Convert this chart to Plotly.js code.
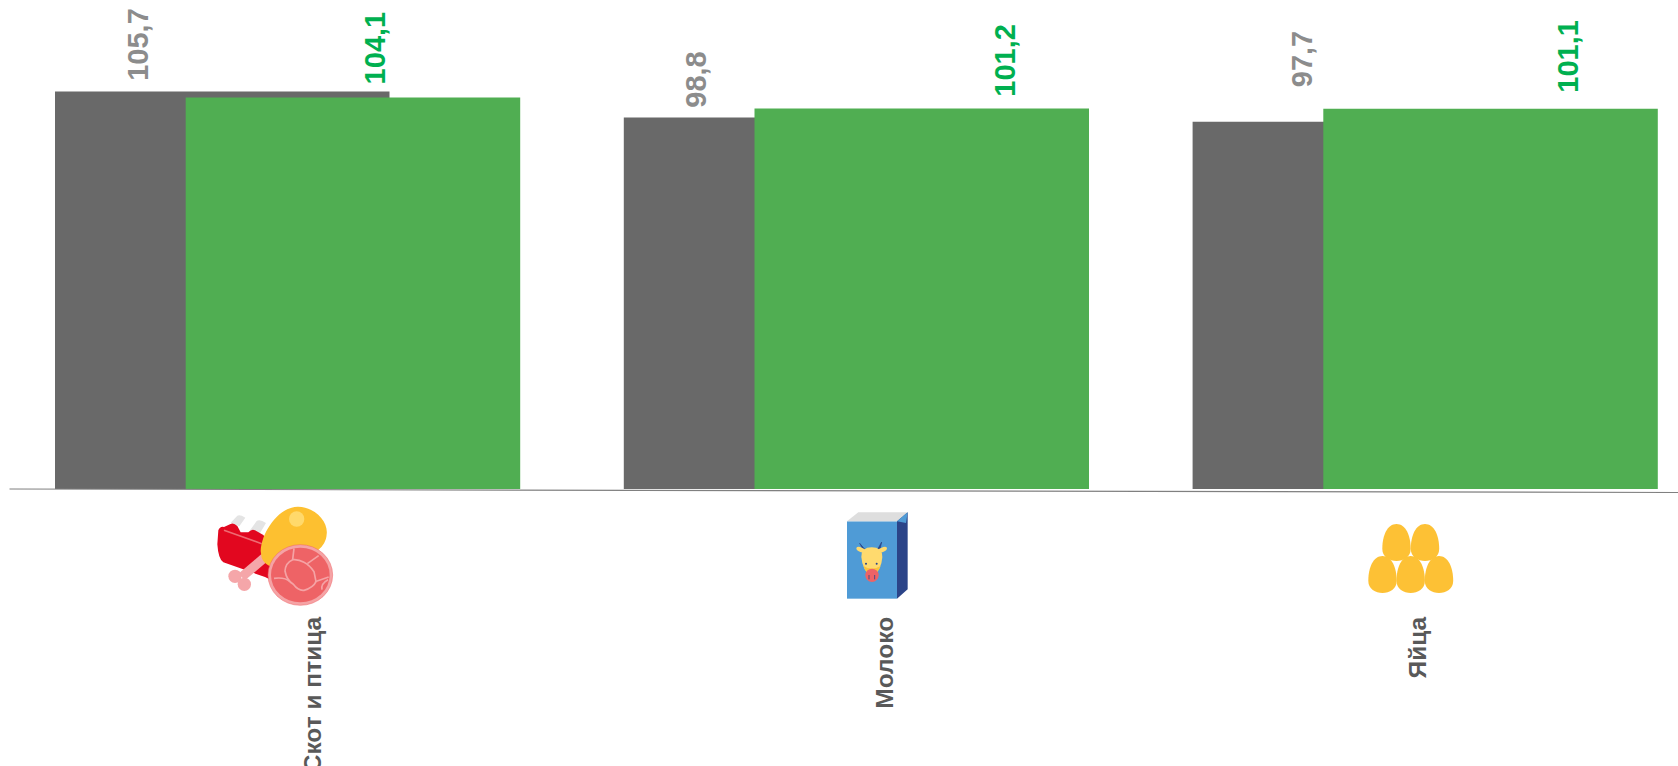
<!DOCTYPE html>
<html><head><meta charset="utf-8">
<script src="https://cdn.plot.ly/plotly-3.0.1.min.js"></script>
<style>html,body{margin:0;padding:0;background:#fff;overflow:hidden}</style>
</head><body><div id="chart" style="width:1678px;height:766px"></div>
<script>
// ---- data ----
const categories = ["Скот и птица", "Молоко", "Яйца"];
const groupIndex = [0, 1, 2];
const greyValues = [105.7, 98.8, 97.7];
const greenValues = [104.1, 101.2, 101.1];

// ---- layout helpers (pixels of the 1678x766 frame) ----
const W = 1678, H = 766, baseY = 489;
const unitPx = 568.8, firstCenterPx = 287.5, pxPerValue = 3.76;
const toX = px => (px - firstCenterPx) / unitPx;
const barWidth = 334.5 / unitPx;
const greyOffset = (55 - firstCenterPx) / unitPx;
const greenOffset = (185.7 - firstCenterPx) / unitPx;
const tickPx = [313, 885, 1418];
const greyLabelPx = [138, 696, 1302], greyLabelGap = [8.3, 7.8, 32.4];
const greenLabelPx = [375, 1005, 1568], greenLabelGap = [10.7, 9.3, 13.7];
const comma = v => String(v).replace('.', ',');

const svgUri = s => 'data:image/svg+xml;charset=utf-8,' + encodeURIComponent(s);
const meatIcon = `<svg xmlns="http://www.w3.org/2000/svg" width="480" height="390" viewBox="0 0 480 390">
<path d="M92,95 L112,74 Q120,70 136,80 L118,106 Z M150,118 L170,90 Q180,84 198,96 L178,130 Z" fill="#e4e4e4"/>
<path d="M55,118 Q60,105 72,108 L90,100 Q100,93 112,105 L122,124 L145,124 Q155,113 165,118 L190,132 L210,160 L215,268 L195,258 L70,214 Q55,205 52,160 Z" fill="#e2071f"/>
<path d="M72,118 L185,158" stroke="#ee6a72" stroke-width="5" fill="none"/>
<path d="M205,190 L125,258" stroke="#f5a6a9" stroke-width="28" fill="none"/>
<circle cx="105" cy="256" r="20" fill="#f5a6a9"/><circle cx="133" cy="280" r="20" fill="#f5a6a9"/>
<path d="M182,180 C185,120 240,45 295,47 C350,50 385,95 380,130 C378,170 340,190 300,215 C260,235 200,240 185,200 Z" fill="#fdc030"/>
<circle cx="290" cy="84" r="23" fill="#ffd96b"/>
<ellipse cx="301" cy="252" rx="97" ry="91" fill="#f5a3a5" stroke="#ee6366" stroke-width="1.5"/>
<ellipse cx="301" cy="252" rx="88" ry="82" fill="#ee6366"/>
<g stroke="#f5a3a5" stroke-width="5" fill="none" stroke-linejoin="round">
<path d="M282,172 L278,206 Q256,216 255,240 Q260,268 280,280 Q295,300 312,298 Q340,290 348,272 L342,242 Q328,222 312,214 Q295,204 278,206"/>
<path d="M322,218 L356,194"/>
<path d="M345,272 L386,258"/>
<path d="M222,262 Q255,258 270,272"/>
<path d="M366,296 Q362,278 384,266"/>
</g>
</svg>`;
const milkIcon = `<svg xmlns="http://www.w3.org/2000/svg" width="360" height="720" viewBox="0 0 360 720">
<rect x="141" y="121" width="150" height="232" fill="#4f9bd6"/>
<polygon points="141,121 175,94 323,94 291,121" fill="#dedede"/>
<polygon points="291,121 323,94 323,325 291,353" fill="#2b4488"/>
<polygon points="291,121 323,94 318,126" fill="#4f9bd6"/>
<path d="M202,214 L179,187 L194,214 Z M228,214 L245,183 L238,214 Z" fill="#2b4488" stroke="#2b4488" stroke-width="2"/>
<ellipse cx="184" cy="207" rx="16" ry="7" fill="#ffda6e" transform="rotate(25 184 207)"/>
<ellipse cx="246" cy="207" rx="16" ry="7" fill="#ffda6e" transform="rotate(-25 246 207)"/>
<path d="M184,228 Q184,199 215,199 Q247,199 247,228 Q245,268 215,288 Q187,268 184,228 Z" fill="#ffda6e"/>
<path d="M190,255 Q215,270 242,255 Q235,275 215,288 Q197,275 190,255 Z" fill="#fcc33b"/>
<circle cx="216" cy="283" r="20" fill="#ee6366"/>
<circle cx="198" cy="248" r="3" fill="#2b4488"/><circle cx="230" cy="248" r="3" fill="#2b4488"/>
<path d="M207,282 L207,295 M224,282 L224,295" stroke="#2b4488" stroke-width="2.5" fill="none"/>
</svg>`;
const egg = (cx, top) => `<path d="M${cx},${top} C${cx+9},${top} ${cx+14.2},${top+11} ${cx+14.2},${top+25} C${cx+14.2},${top+33} ${cx+7},${top+37} ${cx},${top+37} C${cx-7},${top+37} ${cx-14.2},${top+33} ${cx-14.2},${top+25} C${cx-14.2},${top+11} ${cx-9},${top} ${cx},${top} Z" fill="#fdc135"/>`;
const eggIcon = `<svg xmlns="http://www.w3.org/2000/svg" width="110" height="85" viewBox="1360 515 110 85">
${egg(1396.5,523)}${egg(1425,523)}${egg(1382.5,555)}${egg(1410.7,555)}${egg(1439,555)}</svg>`;

const iconDrop = 1;
const pxImage = (src, x, y, w, h) => ({
  source: svgUri(src), xref: 'paper', yref: 'paper', xanchor: 'left', yanchor: 'top',
  x: x / W, y: 1 - (y + iconDrop) / baseY, sizex: w / W, sizey: h / baseY, sizing: 'stretch', layer: 'above'
});

const labelAnn = (i, v, px, gap, color) => ({
  x: groupIndex[i], y: v, xref: 'x', yref: 'y', text: '<b>' + comma(v) + '</b>', showarrow: false, textangle: -90,
  xanchor: 'center', yanchor: 'bottom', xshift: px - (firstCenterPx + unitPx * i), yshift: gap,
  font: {family: 'Liberation Sans', size: 29, color: color}
});

const traces = [
  {type: 'bar', x: groupIndex, y: greyValues, width: barWidth, offset: greyOffset,
   marker: {color: '#696969', line: {width: 0}}, hoverinfo: 'skip', name: 'grey'},
  {type: 'bar', x: groupIndex, y: greenValues, width: barWidth, offset: greenOffset,
   marker: {color: '#50ae52', line: {width: 0}}, hoverinfo: 'skip', name: 'green'}
];

const layout = {
  width: W, height: H, margin: {l: 0, r: 0, t: 0, b: H - baseY, pad: 0, autoexpand: false},
  paper_bgcolor: '#fff', plot_bgcolor: '#fff', barmode: 'overlay', showlegend: false,
  font: {family: 'Liberation Sans'},
  xaxis: {range: [toX(0), toX(W)], tickmode: 'array', tickvals: tickPx.map(toX), ticktext: categories.map(c => '<b>' + c + '</b>'),
    tickangle: -90, ticks: 'outside', ticklen: 117, tickcolor: 'rgba(0,0,0,0)', showgrid: false, zeroline: false, showline: false,
    tickfont: {family: 'Liberation Sans', size: 24.5, color: '#595959'}, automargin: false, fixedrange: true},
  yaxis: {range: [0, baseY / pxPerValue], visible: false, fixedrange: true},
  shapes: [{type: 'line', xref: 'paper', yref: 'paper', x0: 9.5 / W, x1: 1, y0: 0, y1: -3.5 / baseY,
    line: {color: '#808080', width: 1.2}, layer: 'above'}],
  annotations: [
    ...greyValues.map((v, i) => labelAnn(i, v, greyLabelPx[i], greyLabelGap[i], '#8c8c8c')),
    ...greenValues.map((v, i) => labelAnn(i, v, greenLabelPx[i], greenLabelGap[i], '#00b050'))
  ],
  images: [
    pxImage(meatIcon, 200, 490, 160, 130),
    pxImage(milkIcon, 800, 480, 120, 240),
    pxImage(eggIcon, 1360, 515, 110, 85)
  ]
};
Plotly.newPlot('chart', traces, layout, {displayModeBar: false, responsive: false, staticPlot: true});
</script></body></html>
